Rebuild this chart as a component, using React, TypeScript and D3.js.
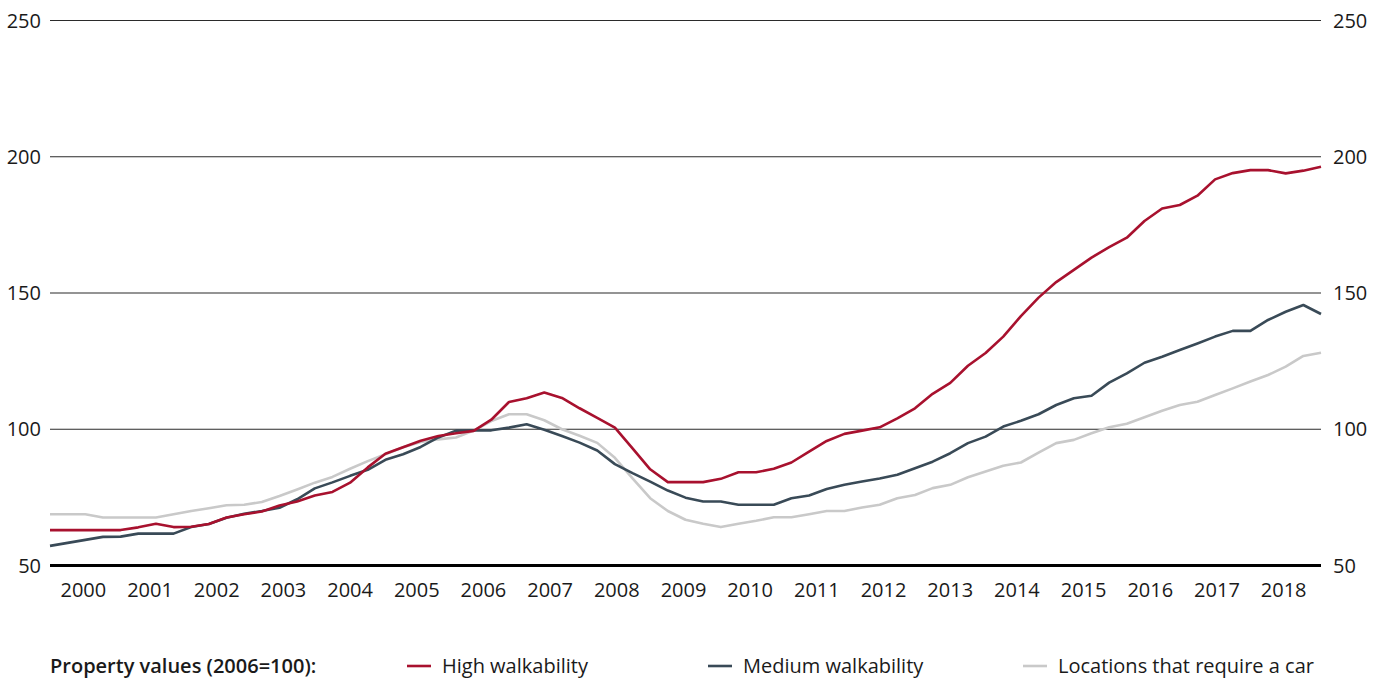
import React, { useEffect, useRef } from 'react';
import * as d3 from 'd3';

// quarterly index values, 2006 = 100
const highWalk = [
  63, 63, 63, 63, 63, 64, 65.3, 64.1, 64.2, 65.2, 67.6, 68.8, 69.8, 72, 73.5, 75.7, 77, 80.4, 86, 91,
  93.4, 95.8, 97.5, 98.5, 99.4, 103.5, 110, 111.4, 113.5, 111.5, 107.7, 104.2, 100.6, 93, 85.3, 80.6,
  80.6, 80.6, 81.8, 84.2, 84.2, 85.5, 87.8, 91.8, 95.7, 98.3, 99.5, 100.7, 104, 107.7, 113, 117, 123.3,
  128, 134, 141.5, 148.3, 154, 158.5, 163, 166.8, 170.3, 176.4, 181, 182.3, 185.7, 191.7, 194, 195.1,
  195.1, 193.9, 194.9, 196.3
];
const mediumWalk = [
  57.2, 58.3, 59.4, 60.5, 60.6, 61.7, 61.7, 61.7, 64.1, 65.2, 67.5, 69, 70, 71.2, 74.3, 78.3, 80.5, 82.9,
  85.1, 88.8, 90.8, 93.5, 97, 99.5, 99.6, 99.6, 100.6, 101.8, 99.8, 97.5, 95.1, 92.2, 87.2, 83.9, 80.8,
  77.5, 74.9, 73.5, 73.5, 72.3, 72.3, 72.3, 74.7, 75.7, 78.1, 79.6, 80.8, 81.9, 83.3, 85.7, 88.1, 91.2,
  94.9, 97.3, 101, 103.1, 105.5, 108.9, 111.4, 112.3, 117.1, 120.5, 124.4, 126.6, 129.1, 131.5, 134,
  136.1, 136.1, 140.1, 143.1, 145.6, 142.3
];
const carOnly = [
  68.8, 68.8, 68.8, 67.6, 67.6, 67.6, 67.6, 68.8, 70, 71, 72.1, 72.3, 73.3, 75.5, 77.9, 80.4, 82.5, 85.5,
  88.3, 90.8, 93.4, 95.3, 96.3, 97, 99.5, 103, 105.5, 105.5, 103.3, 100, 97.6, 95, 89.5, 82, 74.7, 70,
  66.8, 65.3, 64.1, 65.3, 66.4, 67.7, 67.7, 68.8, 70, 70, 71.3, 72.3, 74.7, 75.9, 78.4, 79.6, 82.4, 84.5,
  86.6, 87.8, 91.4, 94.9, 96.1, 98.5, 100.7, 102, 104.4, 106.8, 108.9, 110.1, 112.6, 115, 117.5, 119.9,
  123, 126.9, 128.1
];
const years = d3.range(2000, 2019).map(String);
const yTicks = [50, 100, 150, 200, 250];

const seriesNames = ['High walkability', 'Medium walkability', 'Locations that require a car'];
const seriesColors = ['#a8112e', '#394a57', '#c9c9c9'];

const W = 1387, H = 679;
const font = '"Open Sans", sans-serif';

export default function App() {
  const ref = useRef(null);

  useEffect(() => {
    const svg = d3.select(ref.current);
    svg.selectAll('*').remove();

    const left = 50, right = 1321;
    const x = d3.scaleLinear().domain([0, highWalk.length - 1]).range([left, right]);
    const xYear = d3.scaleBand().domain(years).range([50, 1317]);
    const y = d3.scaleLinear().domain([50, 250]).range([565.5, 20.5]);

    // grid
    svg.append('g')
      .selectAll('line')
      .data(yTicks)
      .enter()
      .append('line')
      .attr('x1', left)
      .attr('x2', right)
      .attr('y1', d => y(d))
      .attr('y2', d => y(d))
      .attr('stroke', d => (d === 50 ? '#000' : '#2b2b2b'))
      .attr('stroke-width', d => (d === 50 ? 3 : 1.1));

    const tickText = (anchor, xpos) => svg.append('g')
      .selectAll('text')
      .data(yTicks)
      .enter()
      .append('text')
      .attr('x', xpos)
      .attr('y', d => y(d) + 7)
      .attr('text-anchor', anchor)
      .style('font-family', font)
      .style('font-size', '20px')
      .attr('fill', '#1a1a1a')
      .text(d => d);
    tickText('end', 41);
    tickText('start', 1333);

    svg.append('g')
      .selectAll('text')
      .data(years)
      .enter()
      .append('text')
      .attr('x', d => xYear(d) + xYear.bandwidth() / 2)
      .attr('y', 597)
      .attr('text-anchor', 'middle')
      .style('font-family', font)
      .style('font-size', '20px')
      .attr('fill', '#1a1a1a')
      .text(d => d);

    const line = d3.line().x((d, i) => x(i)).y(d => y(d));
    const all = [highWalk, mediumWalk, carOnly];
    [2, 1, 0].forEach(k => {
      svg.append('path')
        .datum(all[k])
        .attr('d', line)
        .attr('fill', 'none')
        .attr('stroke', seriesColors[k])
        .attr('stroke-width', 2.6)
        .attr('stroke-linejoin', 'round');
    });

    // legend
    svg.append('text')
      .attr('x', 50)
      .attr('y', 673)
      .style('font-family', font)
      .style('font-size', '20px')
      .style('font-weight', 600)
      .attr('fill', '#1a1a1a')
      .text('Property values (2006=100):');

    const legendX = [407, 708, 1023];
    const lg = svg.append('g');
    seriesNames.forEach((name, k) => {
      lg.append('line')
        .attr('x1', legendX[k])
        .attr('x2', legendX[k] + 24)
        .attr('y1', 666)
        .attr('y2', 666)
        .attr('stroke', seriesColors[k])
        .attr('stroke-width', 2.6);
      lg.append('text')
        .attr('x', legendX[k] + 35)
        .attr('y', 673)
        .style('font-family', font)
        .style('font-size', '20px')
        .attr('fill', '#1a1a1a')
        .text(name);
    });
  }, []);

  return (
    <svg ref={ref} width={W} height={H} style={{ position: 'absolute', left: 0, top: 0, background: '#fff' }}></svg>
  );
}
